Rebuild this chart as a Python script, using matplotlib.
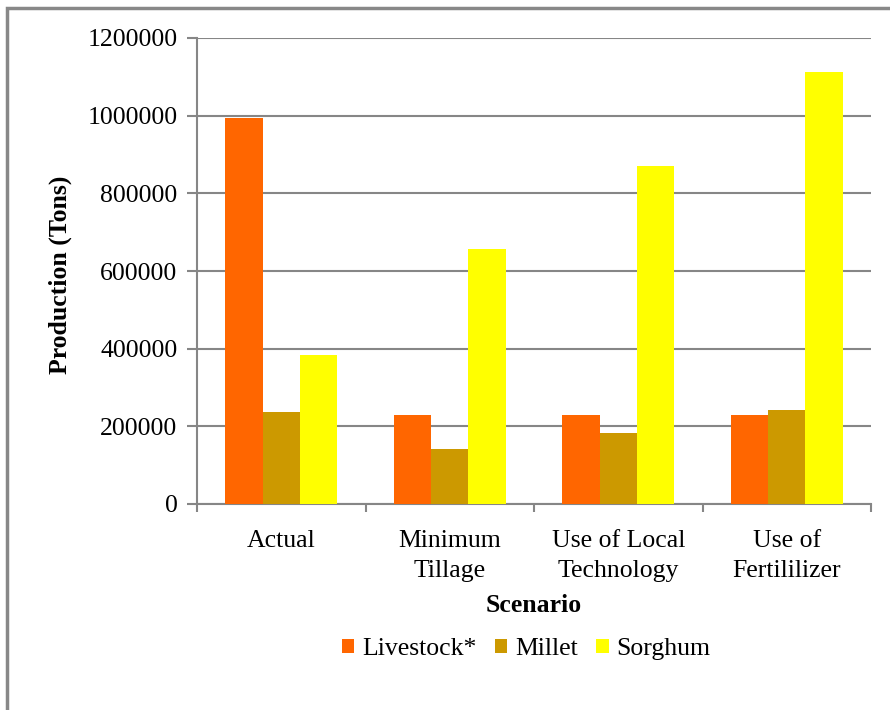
import matplotlib
matplotlib.use("Agg")
import matplotlib.pyplot as plt
import numpy as np
from matplotlib.patches import Rectangle

categories = ["Actual", "Minimum\nTillage", "Use of Local\nTechnology", "Use of\nFertililizer"]
series_names = ["Livestock*", "Millet", "Sorghum"]
livestock = [993000, 228000, 228000, 228000]
millet = [236000, 141000, 183000, 242000]
sorghum = [383000, 657000, 870000, 1113000]
colors = ["#FF6600", "#CC9900", "#FFFF00"]
yticks = [0, 200000, 400000, 600000, 800000, 1000000, 1200000]

plt.rcParams['font.family'] = ['Liberation Serif', 'DejaVu Serif']
W, H = 890, 710
fig = plt.figure(figsize=(W/100, H/100), dpi=100)
ax = fig.add_axes([197/W, 1-504/H, (871-197)/W, (504-38)/H])

x = np.arange(len(categories))
bw = 0.221
grid_c = "#868686"
for i, (vals, name, c) in enumerate(zip([livestock, millet, sorghum], series_names, colors)):
    ax.bar(x + (i-1)*bw, vals, bw, color=c, label=name, zorder=3)

fs = 18.5
ax.set_xlim(-0.5, len(categories)-0.5)
ax.set_ylim(0, 1200000)
ax.set_yticks(yticks)
ax.set_yticklabels([str(v) for v in yticks], fontsize=fs)
ax.yaxis.grid(True, color=grid_c, linewidth=1.5, zorder=0)
ax.set_xticks(x)
ax.set_xticklabels(categories, fontsize=fs, linespacing=1.45)
ax.tick_params(axis='x', length=0, pad=19)
ax.set_xticks(np.arange(-0.5, len(categories)), minor=True)
ax.tick_params(axis='x', which='minor', length=6, color=grid_c, width=1.5)
ax.tick_params(axis='y', length=7, color=grid_c, width=1.5, pad=7)
for s in ['top', 'right']:
    ax.spines[s].set_visible(False)
for s in ['left', 'bottom']:
    ax.spines[s].set_color(grid_c)
    ax.spines[s].set_linewidth(1.5)

fig.text(60/W, 1-275/H, "Production (Tons)", rotation=90, fontsize=fs,
         fontweight='bold', ha='center', va='center')
fig.text(534/W, 1-606/H, "Scenario", fontsize=fs, fontweight='bold',
         ha='center', va='center')

handles, labels = ax.get_legend_handles_labels()
fig.legend(handles, labels, loc='center', bbox_to_anchor=(526/W, 1-649/H),
           ncol=3, frameon=False, fontsize=fs, handlelength=0.5,
           handleheight=0.5, handletextpad=0.3, columnspacing=0.7,
           borderpad=0, borderaxespad=0)

fig.patches.append(Rectangle((7/W, -0.1), 1.2, 1-8/H+0.1, transform=fig.transFigure,
                             fill=False, edgecolor="#888888", linewidth=2.5))

fig.savefig("out.png", dpi=100)
